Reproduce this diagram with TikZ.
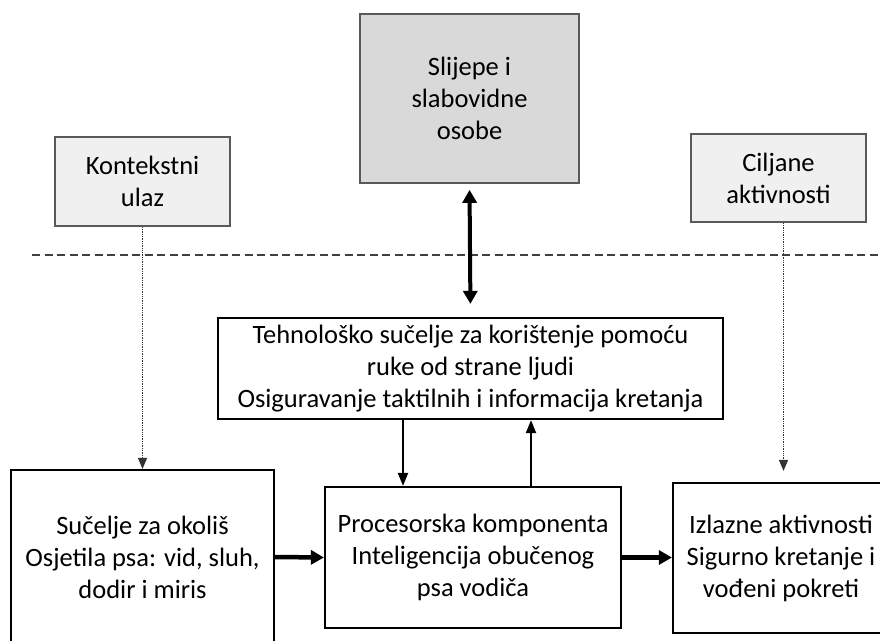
\documentclass[tikz,border=0pt]{standalone}
\usepackage{fontspec}
\setmainfont{Carlito}
\usetikzlibrary{arrows.meta,calc}

\begin{document}
\begin{tikzpicture}[
		x=1pt,y=-1pt,
		font=\fontsize{26.5}{32}\selectfont,
		ubox/.style={draw=black!65,line width=1.6pt,align=center,inner sep=0pt},
		usr/.style={ubox,fill=black!15},
		ctx/.style={ubox,fill=black!6},
		blk/.style={draw,line width=2.2pt,align=center,inner sep=0pt,fill=white},
		thn/.style={-{Triangle[length=13pt,width=10pt]},line width=2pt},
		thk/.style={-{Triangle[length=13pt,width=14pt]},line width=4.5pt},
		dot/.style={-{Triangle[length=11pt,width=9pt]},densely dotted,line width=1.3pt,black!80}
		]
		\useasboundingbox (0,0) rectangle (880,640);
		\node[usr,minimum width=219pt,minimum height=169pt] (usr) at (469.5,98.5) {Slijepe i\\slabovidne\\osobe};
		\node[ctx,minimum width=175pt,minimum height=89pt] (ctxin) at (142.5,181.5) {Kontekstni\\ulaz};
		\node[ctx,minimum width=175pt,minimum height=88pt] (goal) at (778.5,178) {Ciljane\\aktivnosti};

		\draw[dashed,dash pattern=on 8pt off 4.5pt,line width=2.2pt,black!75] (32,255) -- (880,255);

		\node[blk,minimum width=505pt,minimum height=101pt] (tech) at (470.5,368.5)
			{Tehnološko sučelje za korištenje pomoću\\ruke od strane ljudi\\Osiguravanje taktilnih i informacija kretanja};
		\node[blk,minimum width=263pt,minimum height=174pt] (env) at (142.5,557)
			{Sučelje za okoliš\\Osjetila psa: vid, sluh,\\dodir i miris};
		\node[blk,minimum width=296pt,minimum height=141pt] (proc) at (473,557.5)
			{Procesorska komponenta\\Inteligencija obučenog\\psa vodiča};
		\node[blk,minimum width=216pt,minimum height=150pt] (out) at (781,558)
			{Izlazne aktivnosti\\Sigurno kretanje i\\vođeni pokreti};

		\draw[{Triangle[length=13pt,width=14pt]}-{Triangle[length=13pt,width=14pt]},line width=4pt,shorten <=6pt,shorten >=13pt] (usr.south) -- (tech.north);
		\draw[dot] (ctxin.south) -- (ctxin.south |- env.north);
		\draw[dot,shorten >=11pt] ([xshift=5pt]goal.south) -- ([xshift=5pt]goal.south |- out.north);
		\draw[thn] ([xshift=-67.5pt]tech.south) -- ([xshift=-67.5pt]tech.south |- proc.north);
		\draw[thn] ([xshift=60.5pt]tech.south |- proc.north) -- ([xshift=60.5pt]tech.south);
		\draw[thk] (env.east) -- (proc.west);
		\draw[thk] (proc.east) -- (proc.east -| out.west);
	\end{tikzpicture}
\end{document}
